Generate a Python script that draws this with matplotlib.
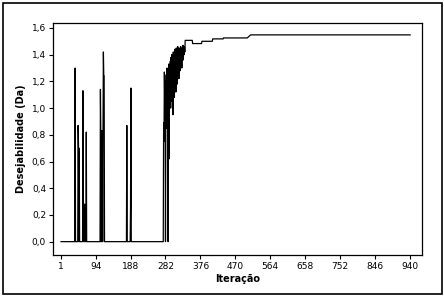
import numpy as np
import matplotlib
matplotlib.use('Agg')
import matplotlib.pyplot as plt
from matplotlib.patches import Rectangle

# pontos (iteração, desejabilidade)
spike_iter = [38, 39, 40, 46, 47, 48, 49, 50, 51, 59, 60, 61, 62, 63, 64, 65, 66, 67, 68, 69, 70,
              106, 107, 108, 109, 110, 111, 112, 113, 114, 115, 116, 117, 118,
              177, 178, 179, 187, 188, 189, 190]
spike_val = [0.0, 1.30, 0.0, 0.0, 0.87, 0.72, 0.0, 0.70, 0.0, 0.0, 1.13, 0.37, 0.0, 0.28, 0.0, 0.28, 0.0, 0.25, 0.0, 0.82, 0.0,
             0.0, 1.14, 0.83, 0.0, 0.83, 0.0, 0.83, 0.0, 0.83, 1.42, 1.24, 1.24, 0.0,
             0.0, 0.87, 0.0, 0.0, 0.26, 1.15, 0.0]

noise_iter = list(range(276, 335))
noise_val = [0.0, 0.89, 0.75, 1.27, 1.05, 1.20, 0.0, 0.95, 1.25, 0.85, 1.30, 1.00, 1.28, 0.0,
             1.10, 1.33, 0.62, 1.30, 1.05, 1.35, 1.00, 1.38, 1.10, 1.40, 1.05, 1.36, 0.95, 1.42,
             1.15, 1.38, 1.08, 1.44, 1.20, 1.40, 1.12, 1.45, 1.25, 1.42, 1.18, 1.46, 1.30, 1.43,
             1.22, 1.45, 1.32, 1.44, 1.28, 1.46, 1.35, 1.43, 1.30, 1.45, 1.38, 1.47, 1.36, 1.45,
             1.40, 1.46, 1.42]

plateau_iter = [335, 354, 355, 379, 380, 408, 409, 437, 438, 502, 511, 940]
plateau_val = [1.507, 1.507, 1.483, 1.483, 1.50, 1.50, 1.518, 1.518, 1.525, 1.525, 1.548, 1.548]

x_ticks = [1, 94, 188, 282, 376, 470, 564, 658, 752, 846, 940]
y_ticks = [0.0, 0.2, 0.4, 0.6, 0.8, 1.0, 1.2, 1.4, 1.6]

iters = [1] + spike_iter + noise_iter + plateau_iter
vals = [0.0] + spike_val + noise_val + plateau_val

fig = plt.figure(figsize=(4.44, 2.97), dpi=100)
ax = fig.add_axes([0.1194, 0.1414, 0.8311, 0.7812])
ax.plot(iters, vals, color='black', lw=0.9)

ax.set_xlim(-20.5, 972)
ax.set_ylim(-0.1, 1.637)
ax.set_xticks(x_ticks)
ax.set_yticks(y_ticks)
ax.set_yticklabels([f'{v:.1f}'.replace('.', ',') for v in y_ticks])
ax.tick_params(labelsize=6.5, length=3, width=0.8, direction='out', pad=2)
for s in ax.spines.values():
    s.set_linewidth(0.9)

ax.set_xlabel('Iteração', fontsize=7, fontweight='bold', labelpad=2)
ax.set_ylabel('Desejabilidade (Da)', fontsize=7, fontweight='bold', labelpad=4)

# moldura externa
fig.patches.append(Rectangle((3 / 444, 3 / 297), 439 / 444, 291 / 297, transform=fig.transFigure,
                             fill=False, edgecolor='black', lw=1.2))

plt.savefig('out.png', dpi=100)
